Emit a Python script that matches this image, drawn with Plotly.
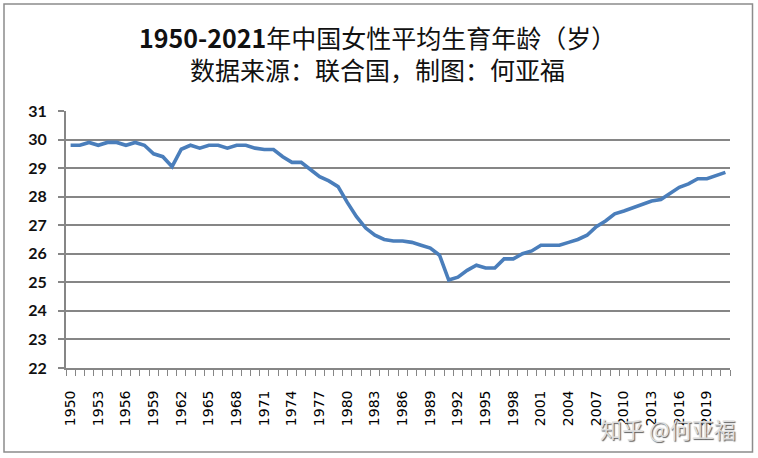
import plotly.graph_objects as go

years = list(range(1950, 2022))
ages = [
    29.8, 29.8, 29.9, 29.8, 29.9, 29.9, 29.8, 29.9, 29.8, 29.5,
    29.4, 29.05, 29.66, 29.8, 29.7, 29.8, 29.8, 29.7, 29.8, 29.8,
    29.7, 29.65, 29.65, 29.4, 29.2, 29.2, 28.95, 28.7, 28.55, 28.35,
    27.8, 27.3, 26.9, 26.65, 26.5, 26.45, 26.45, 26.4, 26.3, 26.2,
    25.95, 25.08, 25.18, 25.42, 25.6, 25.5, 25.5, 25.82, 25.82, 26.0,
    26.1, 26.3, 26.3, 26.3, 26.4, 26.5, 26.65, 26.95, 27.15, 27.4,
    27.5, 27.62, 27.75, 27.85, 27.9, 28.1, 28.33, 28.45, 28.63, 28.63,
    28.73, 28.85,
]
label_years = list(range(1950, 2022, 3))
label_text = [str(y) for y in label_years]
y_ticks = list(range(22, 32))

title_main = "<b>1950-2021</b>年中国女性平均生育年龄（岁）"
title_sub = "数据来源：联合国，制图：何亚福"
watermark = "知乎 @何亚福"

W, H = 758, 458
ML, MR, MT, MB = 66, 28, 111, 90
PW, PH = W - ML - MR, H - MT - MB


def px_x(x):
    return (x - ML) / PW


def px_y(y):
    return (H - MB - y) / PH


grid = "#868686"

fig = go.Figure()
fig.add_trace(go.Scatter(
    x=years, y=ages, mode="lines",
    line=dict(color="#4a7ebb", width=3.6),
    hoverinfo="x+y", showlegend=False,
))

fig.update_layout(
    width=W, height=H,
    margin=dict(l=ML, r=MR, t=MT, b=MB),
    paper_bgcolor="white", plot_bgcolor="white",
    showlegend=False,
    xaxis=dict(
        range=[1949.5, 2021.5],
        tickmode="array", tickvals=label_years, ticktext=label_text,
        tickangle=-90,
        ticks="outside", ticklen=6, tickcolor="rgba(0,0,0,0)",
        ticklabelstandoff=9,
        tickfont=dict(family="DejaVu Sans", size=14, color="#000"),
        showline=True, linecolor=grid, linewidth=1.8,
        showgrid=False, zeroline=False,
        minor=dict(tickmode="linear", tick0=1949.5, dtick=1,
                   ticks="outside", ticklen=6, tickcolor=grid, tickwidth=1.2,
                   showgrid=False),
    ),
    yaxis=dict(
        range=[22, 31],
        tickmode="array", tickvals=y_ticks,
        ticks="outside", ticklen=6, tickcolor=grid, tickwidth=1.8,
        ticklabelstandoff=8,
        tickfont=dict(family="Lato", size=16, color="#111", weight="bold"),
        showline=True, linecolor=grid, linewidth=1.8,
        showgrid=True, gridcolor=grid, gridwidth=2,
        zeroline=False,
    ),
    shapes=[dict(
        type="rect", xref="paper", yref="paper",
        x0=px_x(4), x1=px_x(752.5), y0=px_y(452), y1=px_y(4),
        line=dict(color="#8c8c8c", width=1.5), fillcolor="rgba(0,0,0,0)",
        layer="below",
    )],
    annotations=[
        dict(text=title_main, xref="paper", yref="paper",
             x=px_x(377), y=px_y(37), xanchor="center", yanchor="middle",
             showarrow=False,
             font=dict(family="Noto Sans CJK SC", size=25, color="#111")),
        dict(text=title_sub, xref="paper", yref="paper",
             x=px_x(377), y=px_y(69), xanchor="center", yanchor="middle",
             showarrow=False,
             font=dict(family="Noto Sans CJK SC", size=25, color="#111")),
        dict(text=watermark, xref="paper", yref="paper",
             x=px_x(668), y=px_y(428), xanchor="center", yanchor="middle",
             showarrow=False,
             font=dict(family="Noto Sans CJK SC", size=22,
                       color="rgba(225,225,225,0.95)",
                       shadow="1px 1px 1px #555")),
    ],
)

fig.write_html("out.html", config={"displayModeBar": False},
               post_script="document.body.style.margin='0';")
